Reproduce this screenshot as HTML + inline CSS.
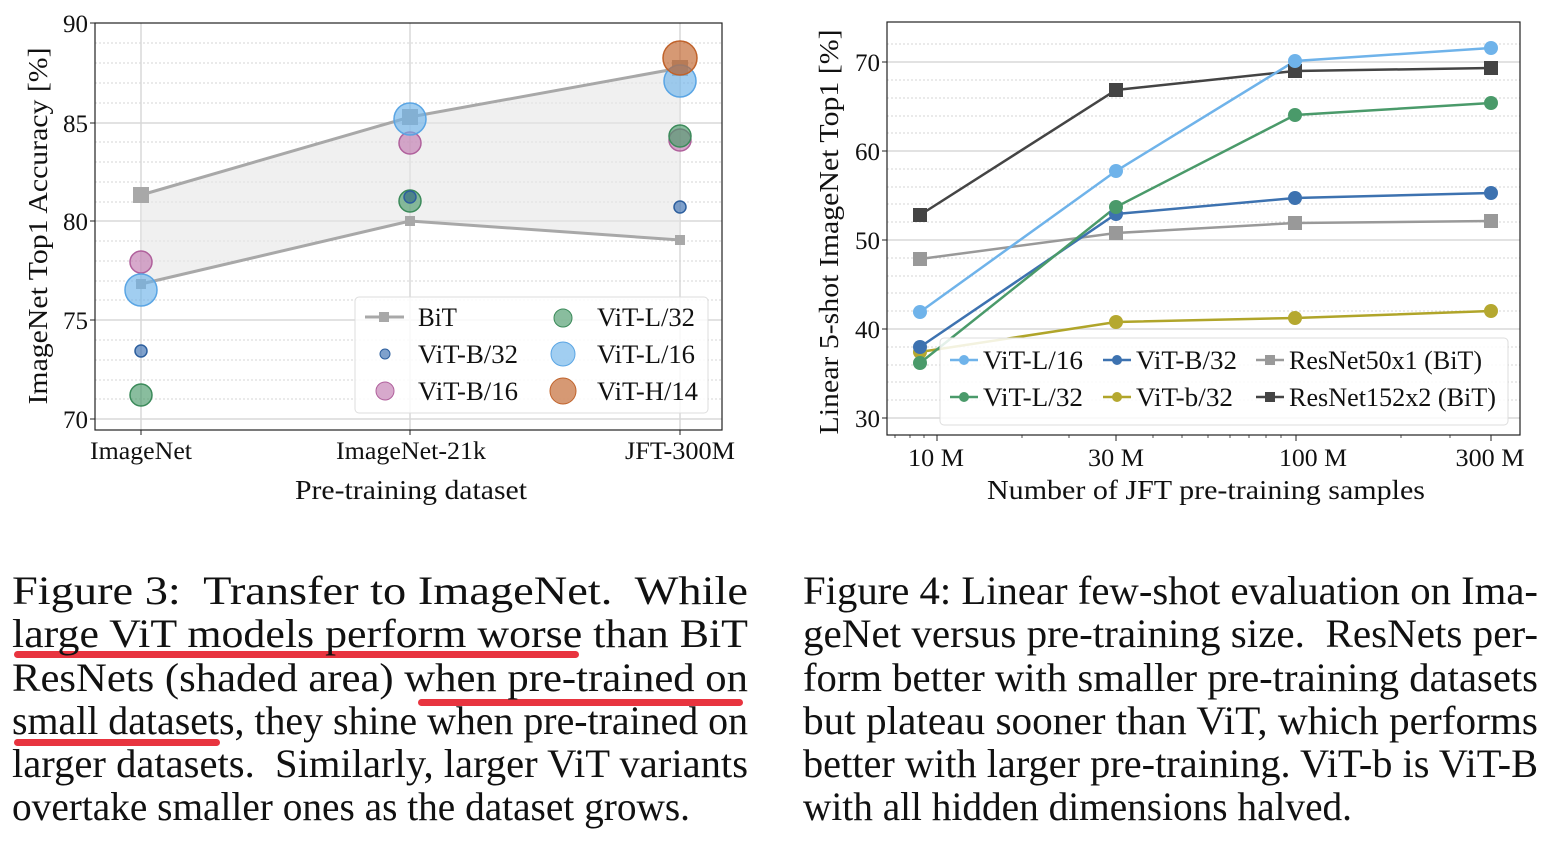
<!DOCTYPE html>
<html><head><meta charset="utf-8"><style>
html,body{margin:0;padding:0;background:#fff}
svg{display:block}
text{font-family:"Liberation Serif","Times New Roman",serif;fill:#111}
</style></head><body>
<svg width="1546" height="850" viewBox="0 0 1546 850" xmlns="http://www.w3.org/2000/svg">
<g>
<g stroke="#d4d4d4" stroke-width="1" stroke-dasharray="2,2">
<line x1="95" x2="722" y1="43" y2="43"/><line x1="95" x2="722" y1="63" y2="63"/><line x1="95" x2="722" y1="83" y2="83"/><line x1="95" x2="722" y1="103" y2="103"/>
<line x1="95" x2="722" y1="142" y2="142"/><line x1="95" x2="722" y1="162" y2="162"/><line x1="95" x2="722" y1="182" y2="182"/><line x1="95" x2="722" y1="202" y2="202"/>
<line x1="95" x2="722" y1="241" y2="241"/><line x1="95" x2="722" y1="261" y2="261"/><line x1="95" x2="722" y1="281" y2="281"/><line x1="95" x2="722" y1="300" y2="300"/>
<line x1="95" x2="722" y1="340" y2="340"/><line x1="95" x2="722" y1="360" y2="360"/><line x1="95" x2="722" y1="380" y2="380"/><line x1="95" x2="722" y1="399" y2="399"/>
</g>
<g stroke="#d8d8d8" stroke-width="1.5">
<line x1="95" x2="722" y1="123" y2="123"/><line x1="95" x2="722" y1="221" y2="221"/><line x1="95" x2="722" y1="320" y2="320"/><line x1="95" x2="722" y1="419" y2="419"/>
<line x1="141" x2="141" y1="23" y2="430"/><line x1="410" x2="410" y1="23" y2="430"/><line x1="680" x2="680" y1="23" y2="430"/>
</g>
<polygon points="141,195 410,117 680,68 680,240 410,221 141,284" fill="#e6e6e6" fill-opacity="0.6"/>
<g stroke="#a8a8a8" stroke-width="3" fill="none"><polyline points="141,195 410,117 680,68"/><polyline points="141,284 410,221 680,240"/></g>
<g fill="#a8a8a8"><rect x="133" y="187" width="16" height="16"/><rect x="402" y="109" width="16" height="16"/><rect x="672" y="60" width="16" height="16"/>
<rect x="136" y="279" width="10" height="10"/><rect x="405" y="216" width="10" height="10"/><rect x="675" y="235" width="10" height="10"/></g>
<g fill-opacity="0.65" stroke-width="1.5">
<circle cx="141" cy="262" r="11" fill="#c27bb0" stroke="#b0609c"/>
<circle cx="141" cy="290" r="16" fill="#6fb3ea" stroke="#5aa5e4"/>
<circle cx="141" cy="351" r="6" fill="#3a6fb0" stroke="#2d5f9e"/>
<circle cx="141" cy="395" r="11" fill="#4a9a6a" stroke="#3b8a5a"/>
<circle cx="410" cy="143" r="11" fill="#c27bb0" stroke="#b0609c"/>
<circle cx="410" cy="119" r="16" fill="#6fb3ea" stroke="#5aa5e4"/>
<circle cx="410" cy="201" r="11" fill="#4a9a6a" stroke="#3b8a5a"/>
<circle cx="410" cy="197" r="6" fill="#2f6a80" stroke="#2d5f9e"/>
<circle cx="680" cy="140" r="11" fill="#c27bb0" stroke="#b0609c"/>
<circle cx="680" cy="136" r="11" fill="#4a9a6a" stroke="#3b8a5a"/>
<circle cx="680" cy="207" r="6" fill="#3a6fb0" stroke="#2d5f9e"/>
<circle cx="680" cy="81" r="16" fill="#6fb3ea" stroke="#5aa5e4"/>
<circle cx="680" cy="58" r="17" fill="#c0622a" stroke="#c0622a"/>
</g>
<rect x="95" y="23" width="627" height="407" fill="none" stroke="#222" stroke-width="1.2"/>
<g stroke="#222"><line x1="90" x2="95" y1="23" y2="23"/><line x1="90" x2="95" y1="123" y2="123"/><line x1="90" x2="95" y1="221" y2="221"/><line x1="90" x2="95" y1="320" y2="320"/><line x1="90" x2="95" y1="419" y2="419"/>
<line x1="141" x2="141" y1="430" y2="435"/><line x1="410" x2="410" y1="430" y2="435"/><line x1="680" x2="680" y1="430" y2="435"/></g>
<g font-size="25" text-anchor="end"><text x="88" y="32">90</text><text x="88" y="132">85</text><text x="88" y="230">80</text><text x="88" y="329">75</text><text x="88" y="428">70</text></g>
<g font-size="25" text-anchor="middle">
<text x="141" y="459" textLength="102" lengthAdjust="spacingAndGlyphs">ImageNet</text>
<text x="411" y="459" textLength="150" lengthAdjust="spacingAndGlyphs">ImageNet-21k</text>
<text x="680" y="459" textLength="110" lengthAdjust="spacingAndGlyphs">JFT-300M</text>
<text x="411" y="499" font-size="27" textLength="232" lengthAdjust="spacingAndGlyphs">Pre-training dataset</text>
<text transform="translate(47,226) rotate(-90)" font-size="27" textLength="357" lengthAdjust="spacingAndGlyphs">ImageNet Top1 Accuracy [%]</text></g>
<rect x="355" y="297" width="353" height="116" rx="4" fill="#fff" fill-opacity="0.85" stroke="#ddd"/>
<line x1="365" x2="404" y1="317" y2="317" stroke="#a8a8a8" stroke-width="3"/><rect x="379" y="312" width="10" height="10" fill="#a8a8a8"/>
<g fill-opacity="0.65"><circle cx="385" cy="354" r="5" fill="#3a6fb0" stroke="#2d5f9e"/><circle cx="385" cy="391" r="9" fill="#c27bb0" stroke="#b0609c"/>
<circle cx="563" cy="318" r="9" fill="#4a9a6a" stroke="#3b8a5a"/><circle cx="563" cy="354" r="12" fill="#6fb3ea" stroke="#5aa5e4"/><circle cx="563" cy="391" r="13" fill="#c0622a" stroke="#c0622a"/></g>
<g font-size="26"><text x="418" y="326" textLength="39" lengthAdjust="spacingAndGlyphs">BiT</text><text x="418" y="363" textLength="100" lengthAdjust="spacingAndGlyphs">ViT-B/32</text><text x="418" y="400" textLength="100" lengthAdjust="spacingAndGlyphs">ViT-B/16</text>
<text x="597" y="326" textLength="98" lengthAdjust="spacingAndGlyphs">ViT-L/32</text><text x="597" y="363" textLength="98" lengthAdjust="spacingAndGlyphs">ViT-L/16</text><text x="597" y="400" textLength="101" lengthAdjust="spacingAndGlyphs">ViT-H/14</text></g>
</g>

<g>
<g stroke="#d4d4d4" stroke-width="1" stroke-dasharray="2,2">
<line x1="887" x2="1520" y1="44" y2="44"/><line x1="887" x2="1520" y1="80" y2="80"/><line x1="887" x2="1520" y1="98" y2="98"/><line x1="887" x2="1520" y1="116" y2="116"/><line x1="887" x2="1520" y1="133" y2="133"/>
<line x1="887" x2="1520" y1="169" y2="169"/><line x1="887" x2="1520" y1="187" y2="187"/><line x1="887" x2="1520" y1="204" y2="204"/><line x1="887" x2="1520" y1="222" y2="222"/>
<line x1="887" x2="1520" y1="258" y2="258"/><line x1="887" x2="1520" y1="276" y2="276"/><line x1="887" x2="1520" y1="293" y2="293"/><line x1="887" x2="1520" y1="311" y2="311"/>
<line x1="887" x2="1520" y1="347" y2="347"/><line x1="887" x2="1520" y1="365" y2="365"/><line x1="887" x2="1520" y1="382" y2="382"/><line x1="887" x2="1520" y1="400" y2="400"/>
</g>
<g stroke="#d8d8d8" stroke-width="1.5"><line x1="887" x2="1520" y1="62" y2="62"/><line x1="887" x2="1520" y1="151" y2="151"/><line x1="887" x2="1520" y1="240" y2="240"/><line x1="887" x2="1520" y1="329" y2="329"/><line x1="887" x2="1520" y1="418" y2="418"/></g>
<g fill="none" stroke-width="2.5">
<polyline points="920,259 1116,233 1295,223 1491,221" stroke="#999"/>
<polyline points="920,215 1116,90 1295,71 1491,68" stroke="#444"/>
<polyline points="920,352 1116,322 1295,318 1491,311" stroke="#b0a52a"/>
<polyline points="920,347 1116,214 1295,198 1491,193" stroke="#3d72b0"/>
<polyline points="920,363 1116,207 1295,115 1491,103" stroke="#4a9a6a"/>
<polyline points="920,312 1116,171 1295,61 1491,48" stroke="#6fb3ea"/>
</g>
<g fill="#999"><rect x="913" y="252" width="14" height="14"/><rect x="1109" y="226" width="14" height="14"/><rect x="1288" y="216" width="14" height="14"/><rect x="1484" y="214" width="14" height="14"/></g>
<g fill="#444"><rect x="913" y="208" width="14" height="14"/><rect x="1109" y="83" width="14" height="14"/><rect x="1288" y="64" width="14" height="14"/><rect x="1484" y="61" width="14" height="14"/></g>
<g fill="#b5a830"><circle cx="920" cy="352" r="7"/><circle cx="1116" cy="322" r="7"/><circle cx="1295" cy="318" r="7"/><circle cx="1491" cy="311" r="7"/></g>
<g fill="#3d72b0"><circle cx="920" cy="347" r="7"/><circle cx="1116" cy="214" r="7"/><circle cx="1295" cy="198" r="7"/><circle cx="1491" cy="193" r="7"/></g>
<g fill="#4a9a6a"><circle cx="920" cy="363" r="7"/><circle cx="1116" cy="207" r="7"/><circle cx="1295" cy="115" r="7"/><circle cx="1491" cy="103" r="7"/></g>
<g fill="#6fb3ea"><circle cx="920" cy="312" r="7"/><circle cx="1116" cy="171" r="7"/><circle cx="1295" cy="61" r="7"/><circle cx="1491" cy="48" r="7"/></g>
<rect x="887" y="22" width="633" height="413" fill="none" stroke="#222" stroke-width="1.2"/>
<g stroke="#222"><line x1="882" x2="887" y1="62" y2="62"/><line x1="882" x2="887" y1="151" y2="151"/><line x1="882" x2="887" y1="240" y2="240"/><line x1="882" x2="887" y1="329" y2="329"/><line x1="882" x2="887" y1="418" y2="418"/>
<line x1="937" x2="937" y1="435" y2="441"/><line x1="1116" x2="1116" y1="435" y2="441"/><line x1="1296" x2="1296" y1="435" y2="441"/><line x1="1491" x2="1491" y1="435" y2="441"/>
<g stroke-width="0.8"><line x1="895" x2="895" y1="435" y2="438"/><line x1="910" x2="910" y1="435" y2="438"/><line x1="924" x2="924" y1="435" y2="438"/><line x1="1022" x2="1022" y1="435" y2="438"/><line x1="1069" x2="1069" y1="435" y2="438"/><line x1="1153" x2="1153" y1="435" y2="438"/><line x1="1182" x2="1182" y1="435" y2="438"/><line x1="1208" x2="1208" y1="435" y2="438"/><line x1="1230" x2="1230" y1="435" y2="438"/><line x1="1249" x2="1249" y1="435" y2="438"/><line x1="1266" x2="1266" y1="435" y2="438"/><line x1="1281" x2="1281" y1="435" y2="438"/><line x1="1401" x2="1401" y1="435" y2="438"/><line x1="1450" x2="1450" y1="435" y2="438"/></g></g>
<g font-size="25" text-anchor="end"><text x="880" y="71">70</text><text x="880" y="160">60</text><text x="880" y="249">50</text><text x="880" y="338">40</text><text x="880" y="427">30</text></g>
<g font-size="25" text-anchor="middle">
<text x="936" y="466" textLength="56" lengthAdjust="spacingAndGlyphs">10 M</text>
<text x="1116" y="466" textLength="56" lengthAdjust="spacingAndGlyphs">30 M</text>
<text x="1313" y="466" textLength="68" lengthAdjust="spacingAndGlyphs">100 M</text>
<text x="1490" y="466" textLength="69" lengthAdjust="spacingAndGlyphs">300 M</text>
<text x="1206" y="499" font-size="27" textLength="438" lengthAdjust="spacingAndGlyphs">Number of JFT pre-training samples</text>
<text transform="translate(838,232) rotate(-90)" font-size="27" textLength="405" lengthAdjust="spacingAndGlyphs">Linear 5-shot ImageNet Top1 [%]</text></g>
<rect x="940" y="338" width="568" height="87" rx="4" fill="#fff" fill-opacity="0.85" stroke="#ddd"/>
<g stroke-width="2.5"><line x1="950" x2="978" y1="360" y2="360" stroke="#6fb3ea"/><line x1="950" x2="978" y1="397" y2="397" stroke="#4a9a6a"/>
<line x1="1103" x2="1131" y1="360" y2="360" stroke="#3d72b0"/><line x1="1103" x2="1131" y1="397" y2="397" stroke="#b0a52a"/>
<line x1="1256" x2="1284" y1="360" y2="360" stroke="#999"/><line x1="1256" x2="1284" y1="397" y2="397" stroke="#444"/></g>
<circle cx="964" cy="360" r="5" fill="#6fb3ea"/><circle cx="964" cy="397" r="5" fill="#4a9a6a"/><circle cx="1117" cy="360" r="5" fill="#3d72b0"/><circle cx="1117" cy="397" r="5" fill="#b5a830"/>
<rect x="1265" y="355" width="10" height="10" fill="#999"/><rect x="1265" y="392" width="10" height="10" fill="#444"/>
<g font-size="26"><text x="983" y="369" textLength="100" lengthAdjust="spacingAndGlyphs">ViT-L/16</text><text x="983" y="406" textLength="100" lengthAdjust="spacingAndGlyphs">ViT-L/32</text>
<text x="1136" y="369" textLength="101" lengthAdjust="spacingAndGlyphs">ViT-B/32</text><text x="1136" y="406" textLength="97" lengthAdjust="spacingAndGlyphs">ViT-b/32</text>
<text x="1289" y="369" textLength="193" lengthAdjust="spacingAndGlyphs">ResNet50x1 (BiT)</text><text x="1289" y="406" textLength="207" lengthAdjust="spacingAndGlyphs">ResNet152x2 (BiT)</text></g>
</g>

<g fill="#e8343f"><rect x="14" y="651" width="565" height="7" rx="3.5"/><rect x="418" y="699" width="325" height="7" rx="3.5"/><rect x="14" y="739" width="206" height="7" rx="3.5"/></g>
<g font-size="40">
<text x="12" y="604" textLength="736" lengthAdjust="spacingAndGlyphs" xml:space="preserve">Figure 3:  Transfer to ImageNet.  While</text>
<text x="12" y="647" textLength="736" lengthAdjust="spacingAndGlyphs">large ViT models perform worse than BiT</text>
<text x="12" y="691" textLength="736" lengthAdjust="spacingAndGlyphs">ResNets (shaded area) when pre-trained on</text>
<text x="12" y="734" textLength="736" lengthAdjust="spacingAndGlyphs">small datasets, they shine when pre-trained on</text>
<text x="12" y="777" textLength="736" lengthAdjust="spacingAndGlyphs" xml:space="preserve">larger datasets.  Similarly, larger ViT variants</text>
<text x="12" y="820" textLength="678" lengthAdjust="spacingAndGlyphs">overtake smaller ones as the dataset grows.</text>
<text x="803" y="604" textLength="735" lengthAdjust="spacingAndGlyphs">Figure 4: Linear few-shot evaluation on Ima-</text>
<text x="803" y="647" textLength="735" lengthAdjust="spacingAndGlyphs" xml:space="preserve">geNet versus pre-training size.  ResNets per-</text>
<text x="803" y="691" textLength="735" lengthAdjust="spacingAndGlyphs">form better with smaller pre-training datasets</text>
<text x="803" y="734" textLength="735" lengthAdjust="spacingAndGlyphs">but plateau sooner than ViT, which performs</text>
<text x="803" y="777" textLength="735" lengthAdjust="spacingAndGlyphs">better with larger pre-training. ViT-b is ViT-B</text>
<text x="803" y="820" textLength="549" lengthAdjust="spacingAndGlyphs">with all hidden dimensions halved.</text>
</g>
</svg>
</body></html>
